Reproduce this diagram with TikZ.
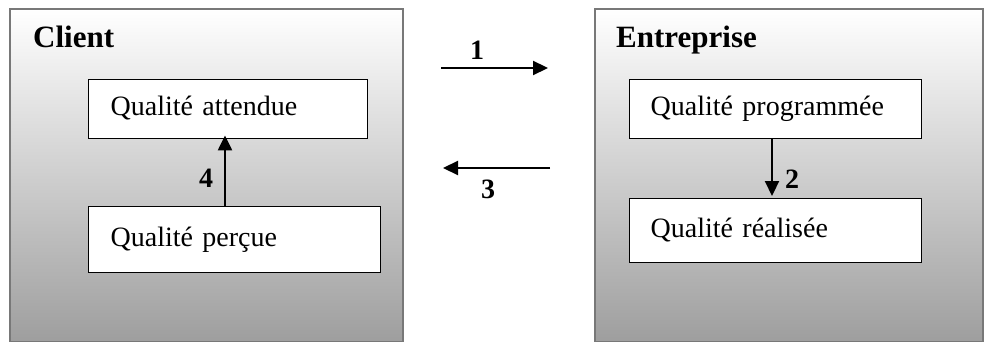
\documentclass[tikz,border=0pt]{standalone}
\usepackage{fontspec}
\setmainfont{Liberation Serif}
\usetikzlibrary{arrows.meta}
\definecolor{shadebot}{RGB}{158,158,158}
\definecolor{framegray}{RGB}{120,120,120}
\begin{document}
\begin{tikzpicture}[x=1pt,y=-1pt,
  outerbox/.style={draw=framegray,line width=2pt,top color=white,bottom color=shadebot,anchor=north west,inner sep=0pt},
  innerbox/.style={draw=black,line width=1.4pt,fill=white,anchor=north west,inner ysep=0pt,align=left,
    font=\fontsize{28}{30}\selectfont,text height=19pt,text depth=6pt},
  titletext/.style={anchor=base west,inner sep=0pt,font=\fontsize{31}{34}\selectfont\bfseries},
  numtext/.style={inner sep=0pt,font=\fontsize{28}{30}\selectfont\bfseries},
  flow/.style={line width=2.2pt,-{Triangle[length=15pt,width=14pt]}}]
\useasboundingbox (0,0) rectangle (988,342);
% outer frames
\node[outerbox,minimum width=393pt,minimum height=333pt] (client) at (9,8) {};
\node[outerbox,minimum width=388pt,minimum height=333pt] (entreprise) at (594,8) {};
\node[titletext] (tclient) at (33,48) {Client};
\node[titletext] (tentreprise) at (616,48) {Entreprise};
% client boxes
\node[innerbox,inner xsep=22pt,text width=235pt,minimum height=59pt] (attendue) at (88,79) {Qualité attendue};
\node[innerbox,inner xsep=22pt,text width=248pt,minimum height=66pt] (percue) at (88,206) {Qualité perçue};
% entreprise boxes
\node[innerbox,inner xsep=21pt,text width=250pt,minimum height=59pt] (programmee) at (629,79) {Qualité programmée};
\node[innerbox,inner xsep=21pt,text width=250pt,minimum height=64pt] (realisee) at (629,198) {Qualité réalisée};
% arrows
\draw[flow] (percue.north -| 225,0) -- ([yshift=4pt]attendue.south -| 225,0);
\draw[flow] (programmee.south -| 772,0) -- ([yshift=2pt]realisee.north -| 772,0);
\coordinate (a1s) at (441,68);
\coordinate (a1e) at (548,68);
\coordinate (a3s) at (550,168);
\coordinate (a3e) at (443,168);
\draw[flow] (a1s) -- (a1e);
\draw[flow] (a3s) -- (a3e);
% labels
\node[numtext] (n1) at (477,50) {1};
\node[numtext] (n2) at (792,179) {2};
\node[numtext] (n3) at (488,189) {3};
\node[numtext] (n4) at (206,178) {4};
\end{tikzpicture}
\end{document}
